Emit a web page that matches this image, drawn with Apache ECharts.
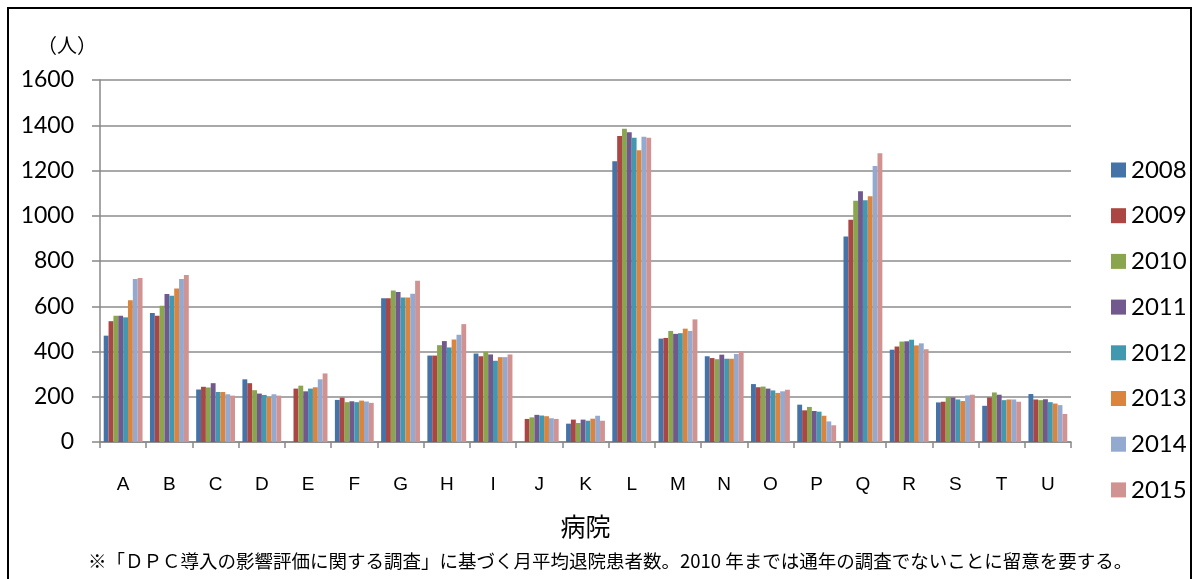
<!DOCTYPE html>
<html><head><meta charset="utf-8">
<script src="https://cdn.jsdelivr.net/npm/echarts@6/dist/echarts.min.js"></script>
<style>
html,body{margin:0;padding:0;background:#fff;}
#frame{position:absolute;left:7px;top:7px;width:1185px;height:600px;border:2px solid #000;box-sizing:border-box;}
#c{position:absolute;left:0;top:0;width:1198px;height:579px;}
</style></head>
<body><div id="frame"></div><div id="c"></div>
<script>
const categories = ['A','B','C','D','E','F','G','H','I','J','K','L','M','N','O','P','Q','R','S','T','U'];
const years = ['2008','2009','2010','2011','2012','2013','2014','2015'];
const yTicks = {min:0, max:1600, interval:200};
const s2008 = [470,570,232,277,null,186,635,382,391,null,81,1241,457,379,256,165,908,408,175,160,212];
const s2009 = [534,558,244,260,236,196,635,382,379,102,99,1353,460,371,242,140,982,422,178,197,188];
const s2010 = [558,602,241,229,249,176,670,428,399,109,84,1385,491,366,245,155,1066,444,200,219,185];
const s2011 = [558,654,260,214,224,180,663,446,387,120,99,1369,478,386,236,137,1108,445,197,209,189];
const s2012 = [551,646,221,208,236,176,639,418,359,117,94,1345,481,368,228,134,1069,452,188,185,176];
const s2013 = [626,678,221,198,242,183,639,453,375,114,103,1289,501,368,217,116,1086,427,181,188,170];
const s2014 = [720,720,211,211,277,179,655,474,375,105,116,1349,491,389,224,91,1220,436,206,188,163];
const s2015 = [725,738,205,205,303,173,713,521,387,102,94,1345,542,401,231,74,1276,410,209,178,124];
const seriesData = [s2008,s2009,s2010,s2011,s2012,s2013,s2014,s2015];
const colors = ['#4572A7','#AA4643','#89A54E','#71588F','#4198AF','#DB843D','#93A9CF','#D19392'];
const unitLabel = '（人）';
const xName = '病院';
const footnote = '※「ＤＰＣ導入の影響評価に関する調査」に基づく月平均退院患者数。2010 年までは通年の調査でないことに留意を要する。';

const chart = echarts.init(document.getElementById('c'));
chart.setOption({
  animation:false,
  color:colors,
  grid:{left:100,right:127,top:80,bottom:137},
  legend:{
    orient:'vertical', left:1106, top:153, itemWidth:15, itemHeight:15, itemGap:21.7,
    icon:'rect', textStyle:{fontFamily:'Lato', fontSize:24, color:'#000'},
    data:years
  },
  xAxis:{
    type:'category', data:categories, name:xName, nameLocation:'middle', nameGap:72,
    nameTextStyle:{fontFamily:'Noto Sans CJK JP', fontSize:25, color:'#000'},
    axisLine:{lineStyle:{color:'#888',width:1.5}},
    axisTick:{show:true,length:6,lineStyle:{color:'#888',width:1.5}},
    axisLabel:{margin:33,fontFamily:'Liberation Sans',fontSize:19,color:'#000'}
  },
  yAxis:{
    type:'value', min:yTicks.min, max:yTicks.max, interval:yTicks.interval,
    axisLine:{show:true,lineStyle:{color:'#888',width:1.5}},
    axisTick:{show:true,length:8,lineStyle:{color:'#888',width:1.5}},
    axisLabel:{margin:26,fontFamily:'Lato',fontSize:23,color:'#000',formatter:v=>String(v)},
    splitLine:{lineStyle:{color:'#8c8c8c',width:1.5}}
  },
  graphic:[
    {type:'text',left:37,top:35,style:{text:unitLabel,fontFamily:'Noto Sans CJK JP',fontSize:20,fill:'#000'}},
    {type:'text',left:88,top:552,style:{text:footnote,fontFamily:'Noto Sans CJK JP',fontSize:18.5,fill:'#000'}}
  ],
  series: seriesData.map((d,i)=>({
    name:years[i], type:'bar', data:d, barGap:'0%', barCategoryGap:'16%',
    itemStyle:{color:colors[i]}
  }))
});
</script></body></html>
